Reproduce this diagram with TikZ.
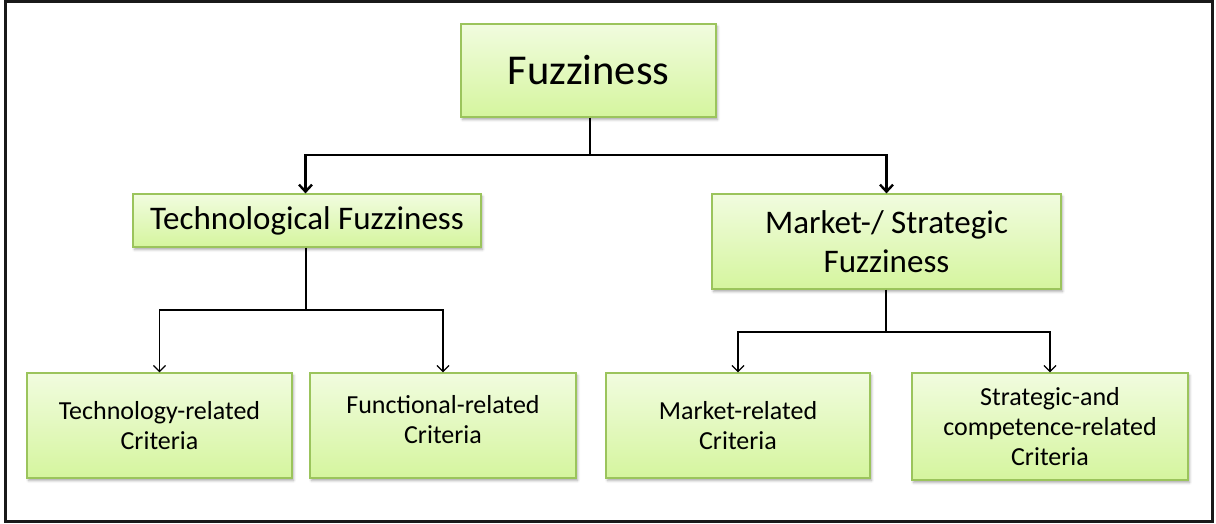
\documentclass[tikz,border=0pt]{standalone}
\usepackage{fontspec}
\setmainfont{Carlito}
\usetikzlibrary{arrows.meta,shadows.blur,positioning}
\definecolor{boxedge}{HTML}{9BC45C}
\definecolor{boxtop}{HTML}{F1FCDF}
\definecolor{boxbot}{HTML}{D5F59E}
\begin{document}
\begin{tikzpicture}[x=1pt,y=-1pt,
  greenbox/.style={draw=boxedge, line width=1.2pt, top color=boxtop, bottom color=boxbot,
    align=center, inner sep=0pt, text=black,
    blur shadow={shadow xshift=1.5pt, shadow yshift=-2.5pt, shadow blur radius=2.5pt, shadow opacity=35}},
  mainarrow/.style={line width=2.8pt, -{Straight Barb[length=7pt,width=13pt,line width=2.4pt]}},
  subarrow/.style={line width=1.4pt, -{Straight Barb[length=6pt,width=12pt,line width=1.3pt]}}
]
\useasboundingbox (0,0) rectangle (1216,523);
% outer frame
\draw[line width=2.6pt, black!90] (5.5,1.5) rectangle (1212.5,521.5);

% top level
\node[greenbox, minimum width=255pt, minimum height=93pt, font=\fontsize{42.5}{50}\selectfont]
  (fuzz) at (588.5,70.5) {Fuzziness};

% second level
\node[greenbox, minimum width=348pt, minimum height=53pt, font=\fontsize{33}{39}\selectfont]
  (tech) at (307,220.5) {Technological Fuzziness};
\node[greenbox, minimum width=349pt, minimum height=95pt, font=\fontsize{33}{39}\selectfont]
  (mkt) at (886.5,241.5) {Market-/ Strategic\\Fuzziness};

% criteria
\tikzset{critbox/.style={greenbox, minimum height=105pt, font=\fontsize{26}{30}\selectfont}}
\node[critbox, minimum width=265pt] (c1) at (159.5,425.5) {Technology-related\\Criteria};
\node[critbox, minimum width=266pt] (c2) at (443,425.5) {};
\node[font=\fontsize{26}{30}\selectfont, align=center, text=black, inner sep=0pt] (c2t) at (443,419.5) {Functional-related\\Criteria};
\node[critbox, minimum width=264pt] (c3) at (738,425.5) {Market-related\\Criteria};
\node[critbox, minimum width=276pt, minimum height=107pt] (c4) at (1050,426.5) {Strategic-and\\competence-related\\Criteria};

% connectors
\coordinate (j1) at (590,155);
\coordinate (j2) at (306,310);
\coordinate (j3) at (886,332);
\draw[line width=2.8pt] (fuzz.south -| j1) -- (j1);
\draw[mainarrow] (j1) -| ([xshift=-1.5pt]tech.north);
\draw[mainarrow] (j1) -| (mkt.north);

\draw[line width=1.4pt] (tech.south -| j2) -- (j2);
\draw[subarrow] (j2) -| (c1.north);
\draw[subarrow] (j2) -| (c2.north);

\draw[line width=1.4pt] (mkt.south -| j3) -- (j3);
\draw[subarrow] (j3) -| (c3.north);
\draw[subarrow] (j3) -| (c4.north);
\end{tikzpicture}
\end{document}
